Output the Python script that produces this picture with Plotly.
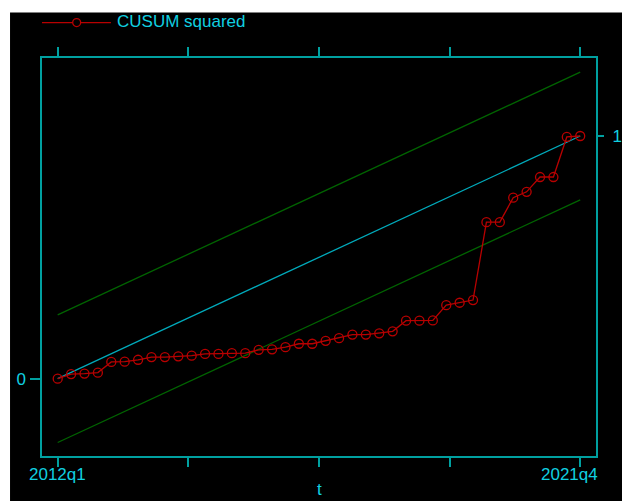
import plotly.graph_objects as go

# ---------------- data ----------------
quarters = [f"{y}q{q}" for y in range(2012, 2022) for q in range(1, 5)]
cusum_sq = [0.000, 0.019, 0.021, 0.025, 0.069, 0.070, 0.078, 0.089, 0.089, 0.092,
            0.095, 0.102, 0.102, 0.105, 0.105, 0.119, 0.121, 0.130, 0.144, 0.144,
            0.156, 0.167, 0.182, 0.182, 0.187, 0.195, 0.239, 0.239, 0.240, 0.303,
            0.313, 0.324, 0.645, 0.645, 0.746, 0.770, 0.831, 0.831, 0.996, 1.000]
expected = [0.0, 1.0]          # at first and last quarter
upper_bound = [0.263, 1.263]
lower_bound = [-0.263, 0.737]
x_tick_pos = [0, 9.75, 19.5, 29.25, 39]
x_tick_labels = ["2012q1", "2021q4"]
legend_label = "CUSUM squared"
x_title = "t"

# ---------------- style ----------------
W, H = 622, 501
L, R, T, B = 42, 596.5, 57.5, 456   # frame in pixels
FRAME = "#00a0a0"
TEXT = "#10d0e0"
RED = "#b80000"
GREEN = "#006400"
DIAG = "#00aabb"
FONT = "Liberation Sans, Arial, sans-serif"
FS = 17

def px_x(p):
    return (p - L) / (R - L)

def px_y(p):
    return (B - p) / (B - T)

idx = list(range(len(quarters)))
ends = [idx[0], idx[-1]]

fig = go.Figure()
fig.add_trace(go.Scatter(x=ends, y=upper_bound, mode="lines",
                         line=dict(color=GREEN, width=1.3), hoverinfo="skip", showlegend=False))
fig.add_trace(go.Scatter(x=ends, y=lower_bound, mode="lines",
                         line=dict(color=GREEN, width=1.3), hoverinfo="skip", showlegend=False))
fig.add_trace(go.Scatter(x=ends, y=expected, mode="lines",
                         line=dict(color=DIAG, width=1.3), hoverinfo="skip", showlegend=False))
fig.add_trace(go.Scatter(x=idx, y=cusum_sq, mode="lines+markers", name=legend_label,
                         text=quarters,
                         line=dict(color=RED, width=1.3),
                         marker=dict(symbol="circle-open", size=9, color=RED,
                                     line=dict(width=1.3, color=RED)),
                         showlegend=False))
# invisible trace for right axis
fig.add_trace(go.Scatter(x=[idx[-1]], y=[1], yaxis="y2", mode="markers",
                         marker=dict(opacity=0), hoverinfo="skip", showlegend=False))

xr = [-(57.7 - L) / 13.41, 39 + (R - 580.7) / 13.41]
yr = [-(B - 378.6) / 243.0, (378.6 - T) / 243.0]

fig.update_layout(
    width=W, height=H,
    margin=dict(l=L, r=W - R, t=T, b=H - B, pad=0, autoexpand=False),
    paper_bgcolor="white",
    plot_bgcolor="black",
    font=dict(family=FONT, size=FS, color=TEXT),
    xaxis=dict(range=xr, tickvals=x_tick_pos, ticktext=[""] * len(x_tick_pos),
               ticks="outside", ticklen=9, tickwidth=1.5, tickcolor=FRAME,
               showline=True, linecolor=FRAME, linewidth=1.5, mirror="ticks",
               showgrid=False, zeroline=False, automargin=False),
    yaxis=dict(range=yr, tickvals=[0], ticktext=["0"],
               ticks="outside", ticklen=10, tickwidth=1.5, tickcolor=FRAME,
               showline=True, linecolor=FRAME, linewidth=1.5, mirror=True,
               showgrid=False, zeroline=False, automargin=False,
               ticklabelstandoff=1,
               tickfont=dict(family=FONT, size=FS, color=TEXT)),
    yaxis2=dict(range=yr, overlaying="y", side="right", tickvals=[1], ticktext=["1"],
                ticks="outside", ticklen=7, tickwidth=1.5, tickcolor=FRAME,
                showline=False, showgrid=False, zeroline=False, automargin=False,
                ticklabelstandoff=5,
                tickfont=dict(family=FONT, size=FS, color=TEXT)),
    showlegend=False,
)

shapes = [
    # black canvas
    dict(type="rect", xref="paper", yref="paper", layer="below",
         x0=px_x(10), x1=px_x(W + 5), y0=px_y(H + 5), y1=px_y(12),
         fillcolor="black", line=dict(width=0)),
    # legend line
    dict(type="line", xref="paper", yref="paper",
         x0=px_x(42), x1=px_x(111), y0=px_y(22), y1=px_y(22),
         line=dict(color=RED, width=1.3)),
    dict(type="circle", xref="paper", yref="paper",
         x0=px_x(72.7), x1=px_x(80.7), y0=px_y(26), y1=px_y(18),
         fillcolor="black", line=dict(color=RED, width=1.3)),
]
fig.update_layout(shapes=shapes)

annotations = [
    dict(text=legend_label, xref="paper", yref="paper", x=px_x(115), y=px_y(21),
         xanchor="left", yanchor="middle", showarrow=False,
         font=dict(family=FONT, size=FS, color=TEXT)),
    dict(text=x_tick_labels[0], xref="x", yref="paper", x=x_tick_pos[0], y=px_y(474.5),
         xanchor="center", yanchor="middle", showarrow=False,
         font=dict(family=FONT, size=FS, color=TEXT)),
    dict(text=x_tick_labels[1], xref="paper", yref="paper", x=1.0, y=px_y(474.5),
         xanchor="right", yanchor="middle", showarrow=False, xshift=4,
         font=dict(family=FONT, size=FS, color=TEXT)),
    dict(text=x_title, xref="paper", yref="paper", x=0.5, y=px_y(490),
         xanchor="center", yanchor="middle", showarrow=False,
         font=dict(family=FONT, size=FS, color=TEXT)),
]
fig.update_layout(annotations=annotations)

fig.write_html(
    "out.html",
    config={"displayModeBar": False},
    post_script="document.documentElement.style.margin='0';document.body.style.margin='0';"
                "document.body.style.padding='0';document.body.style.overflow='hidden';",
)
